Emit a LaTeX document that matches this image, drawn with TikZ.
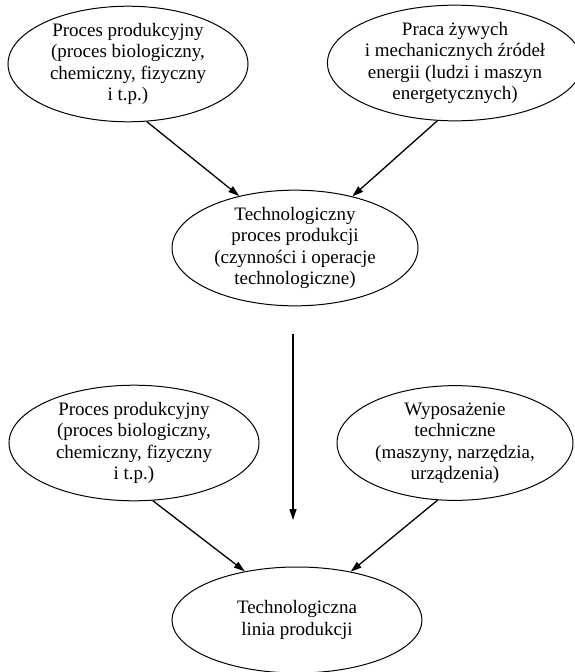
\documentclass[tikz,border=0pt]{standalone}
\usepackage{fontspec}
\setmainfont{Liberation Serif}
\usetikzlibrary{shapes.geometric,arrows.meta}
\begin{document}
\begin{tikzpicture}[x=1pt,y=-1pt,
  bubble/.style={ellipse,draw,line width=1pt,inner sep=0pt,align=center,
    font=\fontsize{19}{21.5}\selectfont},
  link/.style={line width=1.3pt,-{Triangle[length=11pt,width=7pt]}}]
\useasboundingbox (0,0) rectangle (574,672);
% upper group
\node[bubble,minimum width=240pt,minimum height=112pt] (A) at (128,64)
  {Proces produkcyjny\\(proces biologiczny,\\chemiczny, fizyczny\\i t.p.)};
\node[bubble,minimum width=236pt,minimum height=112pt] (B) at (455,63)
  {Praca żywych\\i mechanicznych źródeł\\energii (ludzi i maszyn\\energetycznych)};
\node[bubble,minimum width=246pt,minimum height=108pt] (C) at (295,248)
  {Technologiczny\\proces produkcji\\(czynności i operacje\\technologiczne)};
% lower group
\node[bubble,minimum width=250pt,minimum height=112pt] (D) at (134,443)
  {Proces produkcyjny\\(proces biologiczny,\\chemiczny, fizyczny\\i t.p.)};
\node[bubble,minimum width=236pt,minimum height=112pt] (E) at (455,443)
  {Wyposażenie\\techniczne\\(maszyny, narzędzia,\\urządzenia)};
\node[bubble,minimum width=250pt,minimum height=106pt] (F) at (297,620)
  {Technologiczna\\linia produkcji};
% transition arrow between the two groups
\coordinate (top) at (293,334);
\coordinate (bot) at (293,520);
\draw[link] (A.-72) -- (C.137);
\draw[link] (B.-107) -- (C.42);
\draw[link] (top) -- (bot);
\draw[link] (D.-72) -- (F.137);
\draw[link] (E.-107) -- (F.42);
\end{tikzpicture}
\end{document}
